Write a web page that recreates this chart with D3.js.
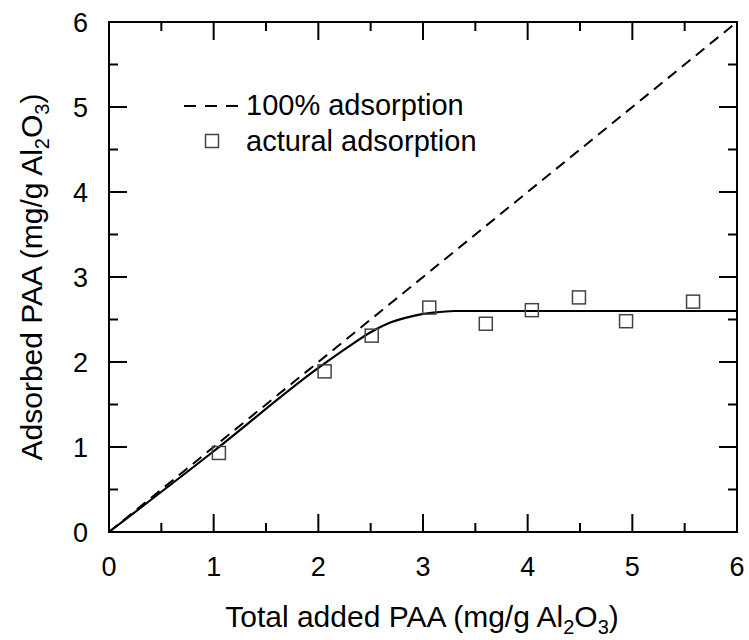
<!DOCTYPE html>
<html><head><meta charset="utf-8">
<script src="https://cdn.jsdelivr.net/npm/d3@7"></script>
<style>body{margin:0;background:#fff}svg{display:block}text{font-family:"Liberation Sans",Arial,sans-serif;fill:#000}</style>
</head><body><svg id="c" width="749" height="640"></svg>
<script>
const addedPAA = [1.05, 2.06, 2.51, 3.06, 3.60, 4.04, 4.49, 4.94, 5.58];
const adsorbedPAA = [0.93, 1.89, 2.31, 2.64, 2.45, 2.61, 2.76, 2.48, 2.71];
const fitX = [0, 1, 2, 2.3, 2.5, 2.7, 2.9, 3.1, 3.3, 3.5, 6];
const fitY = [0, 0.95, 1.93, 2.19, 2.35, 2.47, 2.54, 2.58, 2.6, 2.6, 2.6];
const idealX = [0, 6];
const idealY = [0, 6];
const xTicks = [0, 1, 2, 3, 4, 5, 6];
const yTicks = [0, 1, 2, 3, 4, 5, 6];
const minorTicks = [0.5, 1.5, 2.5, 3.5, 4.5, 5.5];
const legendLabels = ["100% adsorption", "actural adsorption"];

const svg = d3.select("#c");
const L = 109, R = 737, T = 22, B = 532;
const x = d3.scaleLinear().domain([0, 6]).range([L, R]);
const y = d3.scaleLinear().domain([0, 6]).range([B, T]);
const tickFs = 27, titleFs = 30, legFs = 29;

svg.append("rect").attr("x", L).attr("y", T).attr("width", R - L).attr("height", B - T)
  .attr("fill", "none").attr("stroke", "#000").attr("stroke-width", 2);

const g = svg.append("g");
function ticks(vals, len) {
  vals.forEach(v => {
    g.append("line").attr("x1", x(v)).attr("x2", x(v)).attr("y1", B).attr("y2", B - len).attr("stroke", "#000").attr("stroke-width", 2);
    g.append("line").attr("x1", x(v)).attr("x2", x(v)).attr("y1", T).attr("y2", T + len).attr("stroke", "#000").attr("stroke-width", 2);
    g.append("line").attr("y1", y(v)).attr("y2", y(v)).attr("x1", L).attr("x2", L + len).attr("stroke", "#000").attr("stroke-width", 2);
    g.append("line").attr("y1", y(v)).attr("y2", y(v)).attr("x1", R).attr("x2", R - len).attr("stroke", "#000").attr("stroke-width", 2);
  });
}
ticks(xTicks.slice(1, -1), 18);
ticks(minorTicks, 9);

xTicks.forEach(v => {
  svg.append("text").attr("x", x(v)).attr("y", 576).attr("text-anchor", "middle").attr("font-size", tickFs).text(v);
});
yTicks.forEach(v => {
  svg.append("text").attr("x", 88).attr("y", y(v) + 10).attr("text-anchor", "end").attr("font-size", tickFs).text(v);
});

function titleWithSub(sel) {
  sel.append("tspan").text("(mg/g Al");
  sel.append("tspan").attr("font-size", 20).attr("dy", 7).text("2");
  sel.append("tspan").attr("dy", -7).text("O");
  sel.append("tspan").attr("font-size", 20).attr("dy", 7).text("3");
  sel.append("tspan").attr("dy", -7).text(")");
}
const xt = svg.append("text").attr("x", 422).attr("y", 627).attr("text-anchor", "middle").attr("font-size", titleFs);
xt.append("tspan").text("Total added PAA ");
titleWithSub(xt);
const yt = svg.append("text").attr("transform", "translate(42,277) rotate(-90)").attr("text-anchor", "middle").attr("font-size", titleFs);
yt.append("tspan").text("Adsorbed PAA ");
titleWithSub(yt);

const line = d3.line().x(d => x(d[0])).y(d => y(d[1]));
svg.append("path").datum(d3.zip(idealX, idealY)).attr("d", line)
  .attr("fill", "none").attr("stroke", "#000").attr("stroke-width", 2).attr("stroke-dasharray", "11,7");

const curve = d3.line().x(d => x(d[0])).y(d => y(d[1])).curve(d3.curveMonotoneX);
svg.append("path").datum(d3.zip(fitX, fitY)).attr("d", curve)
  .attr("fill", "none").attr("stroke", "#000").attr("stroke-width", 2.2);

const s = 13;
svg.selectAll("rect.pt").data(d3.zip(addedPAA, adsorbedPAA)).enter().append("rect")
  .attr("class", "pt").attr("x", d => x(d[0]) - s / 2).attr("y", d => y(d[1]) - s / 2)
  .attr("width", s).attr("height", s).attr("fill", "none").attr("stroke", "#444").attr("stroke-width", 1.5);

svg.append("line").attr("x1", 184).attr("x2", 244).attr("y1", 106).attr("y2", 106)
  .attr("stroke", "#000").attr("stroke-width", 2).attr("stroke-dasharray", "12,9");
svg.append("text").attr("x", 246).attr("y", 115).attr("font-size", legFs).text(legendLabels[0]);
svg.append("rect").attr("x", 212 - s / 2).attr("y", 141 - s / 2).attr("width", s).attr("height", s)
  .attr("fill", "#fff").attr("stroke", "#444").attr("stroke-width", 1.5);
svg.append("text").attr("x", 246).attr("y", 151).attr("font-size", legFs).text(legendLabels[1]);
</script></body></html>
